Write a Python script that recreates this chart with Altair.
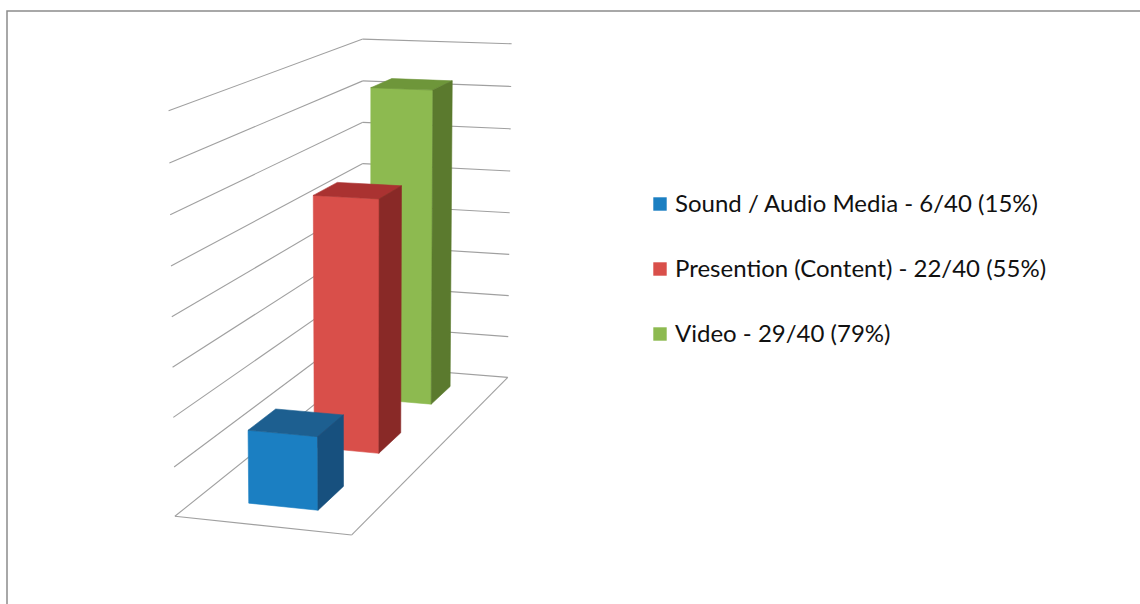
import numpy as np
import pandas as pd
import altair as alt

# ---------------- data ----------------
series = ["Sound / Audio Media", "Presention (Content)", "Video"]
counts = [6, 22, 29]
total = 40
pct_text = ["15%", "55%", "79%"]
axis_max = 80
axis_step = 10

# ---------------- style ----------------
front_colors = ["#1B7FC2", "#D94F4A", "#8DBA50"]
top_colors = ["#1D5F90", "#AA3231", "#6E963A"]
side_colors = ["#17507E", "#892927", "#5B7A2E"]
grid_color = "#A0A0A0"
W, H = 1140, 604

# ---------------- 3D projection (layout of the plot box) ----------------
n_int = axis_max // axis_step
calib = []
for k in range(n_int + 1):
    f = k / n_int
    calib.append(((0, 0, f), (176 - 9 * f, 516 - 402 * f)))
    calib.append(((0, 1, f), (363, 369 - 330 * f)))
    calib.append(((1, 1, f), (506 + 7 * f, 377 - 331 * f)))
calib.append(((1, 0, 0), (354, 539)))

A = []
for (X, Y, Z), (x, y) in calib:
    A.append([X, Y, Z, 1, 0, 0, 0, 0, -x * X, -x * Y, -x * Z, -x])
    A.append([0, 0, 0, 0, X, Y, Z, 1, -y * X, -y * Y, -y * Z, -y])
_, _, Vt = np.linalg.svd(np.array(A, dtype=float))
P = Vt[-1].reshape(3, 4)


def proj(u, d, h):
    v = P @ np.array([u, d, h, 1.0])
    return v[0] / v[2], v[1] / v[2]


def quad_to_area(pts):
    xs = sorted(set(round(p[0], 3) for p in pts))
    rows = []
    n = len(pts)
    for x in xs:
        ys = []
        for i in range(n):
            p, q = pts[i], pts[(i + 1) % n]
            lo, hi = min(p[0], q[0]), max(p[0], q[0])
            if lo - 1e-3 <= x <= hi + 1e-3:
                if abs(q[0] - p[0]) < 1e-6:
                    ys += [p[1], q[1]]
                else:
                    t = (x - p[0]) / (q[0] - p[0])
                    ys.append(p[1] + t * (q[1] - p[1]))
        rows.append((x, min(ys), max(ys)))
    return rows


# ---------------- gridlines ----------------
grid = []
for k in range(n_int + 1):
    f = k / n_int
    a, b = proj(0, 0, f), proj(0, 1, f)
    grid.append(dict(x=a[0], y=a[1], x2=b[0], y2=b[1]))
    a, b = proj(0, 1, f), proj(1, 1, f)
    grid.append(dict(x=a[0], y=a[1], x2=b[0], y2=b[1]))
for (p1, p2) in [((0, 0, 0), (1, 0, 0)), ((1, 0, 0), (1, 1, 0))]:
    a, b = proj(*p1), proj(*p2)
    grid.append(dict(x=a[0], y=a[1], x2=b[0], y2=b[1]))
grid_df = pd.DataFrame(grid)

xs = alt.Scale(domain=[0, W], nice=False, zero=False)
ys = alt.Scale(domain=[H, 0], nice=False, zero=False)

layers = []

border = alt.Chart(pd.DataFrame({"a": [0]})).mark_rect(
    fillOpacity=0, stroke="#8C8C8C", strokeWidth=1.5
).encode(x=alt.value(7), y=alt.value(11), x2=alt.value(W + 20), y2=alt.value(H + 20))
layers.append(border)

layers.append(
    alt.Chart(grid_df).mark_rule(color=grid_color, strokeWidth=1.1).encode(
        x=alt.X("x:Q", scale=xs, axis=None),
        y=alt.Y("y:Q", scale=ys, axis=None),
        x2="x2:Q",
        y2="y2:Q",
    )
)

# ---------------- bars (drawn back to front) ----------------
u0, u1 = 0.3, 0.7
half_depth = 0.4 / 3 / 2
for i in reversed(range(len(series))):
    val = counts[i] / total * 100
    h = val / axis_max
    dc = (2 * i + 1) / 6
    d0, d1 = dc - half_depth, dc + half_depth
    faces = [
        ([(u0, d0, 0), (u1, d0, 0), (u1, d0, h), (u0, d0, h)], front_colors[i]),
        ([(u0, d0, h), (u1, d0, h), (u1, d1, h), (u0, d1, h)], top_colors[i]),
        ([(u1, d0, 0), (u1, d1, 0), (u1, d1, h), (u1, d0, h)], side_colors[i]),
    ]
    for corners, col in faces:
        pts = [proj(*c) for c in corners]
        rows = quad_to_area(pts)
        df = pd.DataFrame(rows, columns=["x", "ylo", "yhi"])
        layers.append(
            alt.Chart(df).mark_area(
                color=col, stroke=col, strokeWidth=0.6, interpolate="linear",
                orient="vertical",
            ).encode(
                x=alt.X("x:Q", scale=xs, axis=None),
                y=alt.Y("ylo:Q", scale=ys, axis=None, stack=None),
                y2="yhi:Q",
            )
        )

# ---------------- legend ----------------
leg = pd.DataFrame({
    "label": [f"{s} - {c}/{total} ({p})" for s, c, p in zip(series, counts, pct_text)],
    "series": series,
    "row": list(range(len(series))),
})
leg["sx"] = 660
leg["sy"] = 204 + 65 * leg["row"]
leg["tx"] = 675
leg["ty"] = 212 + 65 * leg["row"]

layers.append(
    alt.Chart(leg).mark_square(size=180, opacity=1).encode(
        x=alt.X("sx:Q", scale=xs, axis=None),
        y=alt.Y("sy:Q", scale=ys, axis=None),
        color=alt.Color("series:N", scale=alt.Scale(domain=series, range=front_colors), legend=None),
    )
)
layers.append(
    alt.Chart(leg).mark_text(
        align="left", baseline="alphabetic", font="Lato", fontSize=24, color="#111111"
    ).encode(
        x=alt.X("tx:Q", scale=xs, axis=None),
        y=alt.Y("ty:Q", scale=ys, axis=None),
        text="label:N",
    )
)

chart = alt.layer(*layers).properties(
    width=W, height=H, autosize=alt.AutoSizeParams(type="none"), padding=0,
    background="white",
).configure_view(stroke=None)

chart.save("out.html", embed_options={"renderer": "svg", "actions": False})
